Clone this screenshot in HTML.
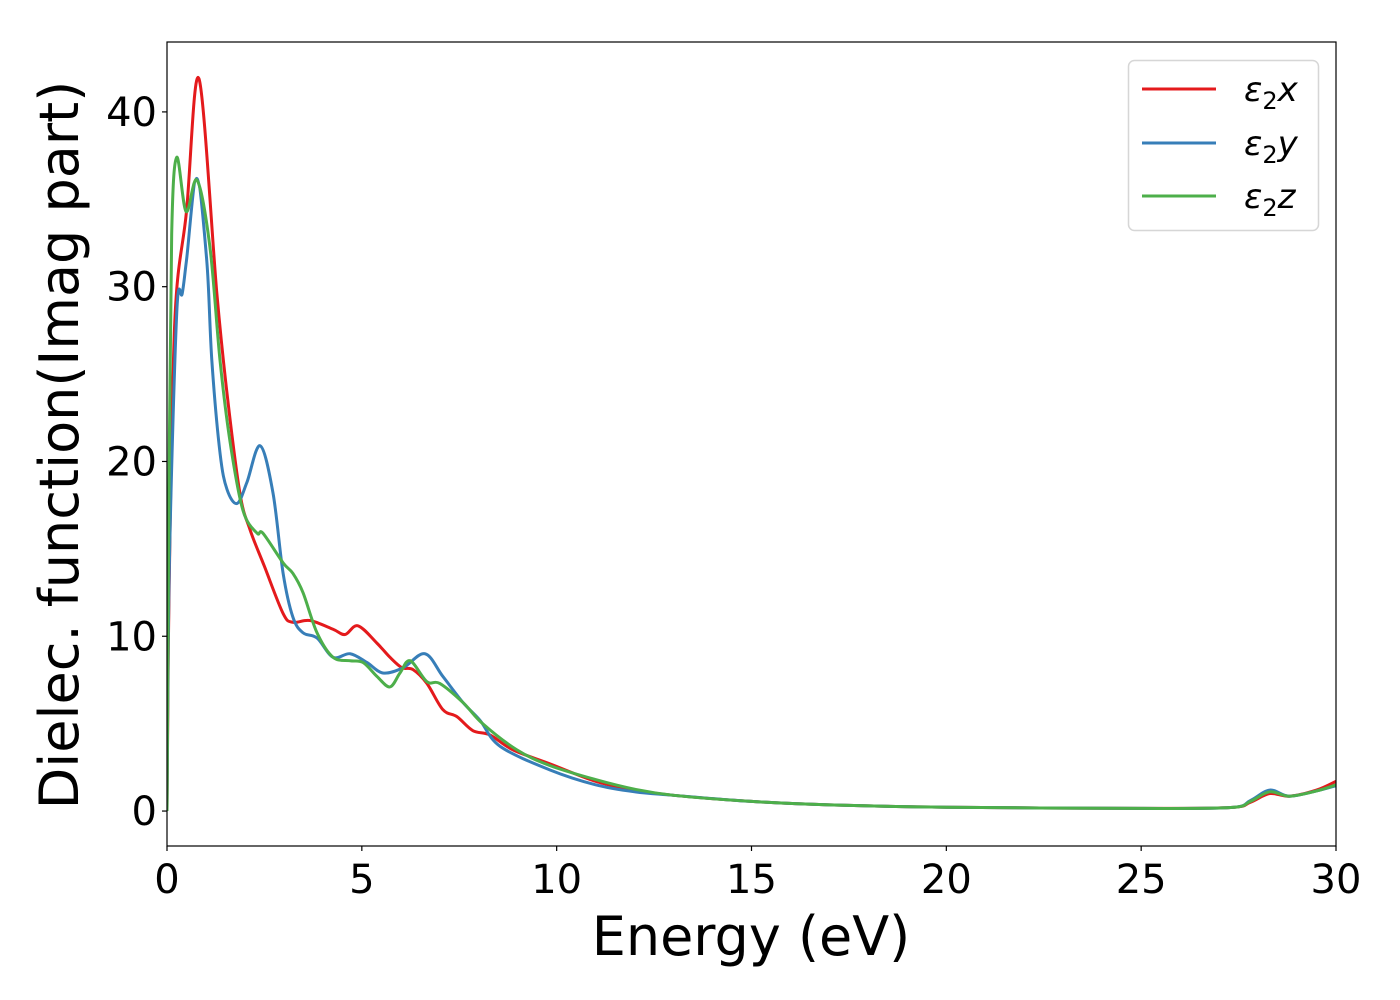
<!DOCTYPE html>
<html><head><meta charset="utf-8"><style>
html,body{margin:0;padding:0;background:#fff;}
svg{display:block;font-family:"DejaVu Sans","Liberation Sans",sans-serif;}
</style></head><body>
<svg id="chart" width="1400" height="1000" viewBox="0 0 1400 1000" xmlns="http://www.w3.org/2000/svg">
<rect width="1400" height="1000" fill="#fff"/>
<g id="plot"></g>
<g id="axes"></g>
<text x="751" y="955" font-size="54" text-anchor="middle">Energy (eV)</text>
<text transform="translate(78,445) rotate(-90)" font-size="54" text-anchor="middle">Dielec. function(Imag part)</text>
<g>
<rect x="1128.5" y="60.5" width="190" height="170" rx="6" fill="#fff" stroke="#d6d6d6" stroke-width="1.5"/>
<line x1="1142" y1="89" x2="1216" y2="89" stroke="#e41a1c" stroke-width="3"/>
<text x="1244" y="101" font-size="34" font-style="italic">ε<tspan font-style="normal" font-size="24" dy="8">2</tspan><tspan dy="-8">x</tspan></text>
<line x1="1142" y1="143" x2="1216" y2="143" stroke="#377eb8" stroke-width="3"/>
<text x="1244" y="155" font-size="34" font-style="italic">ε<tspan font-style="normal" font-size="24" dy="8">2</tspan><tspan dy="-8">y</tspan></text>
<line x1="1142" y1="196" x2="1216" y2="196" stroke="#4daf4a" stroke-width="3"/>
<text x="1244" y="208" font-size="34" font-style="italic">ε<tspan font-style="normal" font-size="24" dy="8">2</tspan><tspan dy="-8">z</tspan></text>
</g>
</svg>
<script>
const xTicks=[0,5,10,15,20,25,30];
const yTicks=[0,10,20,30,40];
const energyX=[0,0.05,0.2,0.5,0.82,1.28,1.54,1.87,2.13,2.5,2.98,3.23,3.67,4.26,4.57,4.9,5.39,5.72,6.03,6.31,6.67,7.08,7.44,7.85,8.29,8.88,9.83,11,12,13,15,17,20,25,27.3,27.8,28.3,28.8,29.5,30];
const epsX=[0,12,28,34.3,41.9,29.6,23.9,18.2,16.1,14,11.3,10.8,10.9,10.4,10.1,10.6,9.6,8.8,8.2,8.1,7.3,5.8,5.4,4.6,4.35,3.5,2.7,1.7,1.2,0.9,0.55,0.35,0.22,0.15,0.2,0.5,1.0,0.85,1.2,1.7];
const energyY=[0,0.06,0.25,0.39,0.5,0.76,1.02,1.15,1.36,1.54,1.8,2.05,2.39,2.72,2.98,3.23,3.49,3.85,4.26,4.7,5.13,5.54,6.06,6.62,7.08,7.6,8.03,8.55,9.83,11,12,13,15,17,20,25,27.3,27.8,28.3,28.8,29.5,30];
const epsY=[0,14,28.5,29.6,31.5,36.2,31.5,25.8,20.5,18.4,17.6,18.8,20.9,18.2,13.6,11.1,10.2,9.9,8.8,9.0,8.5,7.9,8.2,9.0,7.7,6.2,5.2,3.7,2.35,1.5,1.1,0.9,0.55,0.35,0.22,0.15,0.2,0.6,1.2,0.85,1.15,1.45];
const energyZ=[0,0.05,0.12,0.25,0.49,0.77,1.1,1.36,1.62,1.95,2.31,2.46,2.98,3.23,3.49,3.85,4.26,4.7,5.03,5.39,5.72,5.98,6.24,6.67,7.0,7.6,8.1,8.98,9.83,11,12,13,15,17,20,25,27.3,27.8,28.3,28.8,29.5,30];
const epsZ=[0,18,33,37.4,34.3,36.1,32.3,25.8,21.1,17.2,15.9,15.9,14.2,13.6,12.5,10.2,8.8,8.6,8.5,7.7,7.1,7.9,8.6,7.4,7.3,6.2,5.0,3.5,2.6,1.8,1.25,0.9,0.55,0.35,0.22,0.15,0.2,0.55,1.1,0.85,1.15,1.5];

const X0=167,X1=1336,Y0=846,Y1=42,xMin=0,xMax=30,yMin=-2.0,yMax=44.0;
function xs(v){return X0+(v-xMin)/(xMax-xMin)*(X1-X0);}
function ys(v){return Y0-(v-yMin)/(yMax-yMin)*(Y0-Y1);}
const NS='http://www.w3.org/2000/svg';
const plot=document.getElementById('plot');
const axes=document.getElementById('axes');
function curve(xa,ya){
  const p=xa.map((e,i)=>[xs(e),ys(ya[i])]);
  let d='M'+p[0][0].toFixed(2)+','+p[0][1].toFixed(2);
  for(let i=0;i<p.length-1;i++){
    const a=p[Math.max(0,i-1)],b=p[i],c=p[i+1],e=p[Math.min(p.length-1,i+2)];
    let c1x=b[0]+(c[0]-a[0])/6,c1y=b[1]+(c[1]-a[1])/6;
    let c2x=c[0]-(e[0]-b[0])/6,c2y=c[1]-(e[1]-b[1])/6;
    c1x=Math.min(Math.max(c1x,b[0]),c[0]);c2x=Math.min(Math.max(c2x,b[0]),c[0]);
    d+=' C'+c1x.toFixed(2)+','+c1y.toFixed(2)+' '+c2x.toFixed(2)+','+c2y.toFixed(2)+' '+c[0].toFixed(2)+','+c[1].toFixed(2);
  }
  return d;
}
const cp=document.createElementNS(NS,'clipPath');cp.setAttribute('id','clip');
const cr=document.createElementNS(NS,'rect');cr.setAttribute('x',X0);cr.setAttribute('y',Y1);cr.setAttribute('width',X1-X0);cr.setAttribute('height',Y0-Y1);
cp.appendChild(cr);plot.appendChild(cp);
const series=[[energyX,epsX,'#e41a1c','series-eps2-x'],[energyY,epsY,'#377eb8','series-eps2-y'],[energyZ,epsZ,'#4daf4a','series-eps2-z']];
for(const s of series){
  const path=document.createElementNS(NS,'path');
  path.setAttribute('d',curve(s[0],s[1]));
  path.setAttribute('fill','none');path.setAttribute('stroke',s[2]);path.setAttribute('stroke-width','3');
  path.setAttribute('clip-path','url(#clip)');
  
  
  plot.appendChild(path);
}
const frame=document.createElementNS(NS,'rect');
frame.setAttribute('x',X0);frame.setAttribute('y',Y1);frame.setAttribute('width',X1-X0);frame.setAttribute('height',Y0-Y1);
frame.setAttribute('fill','none');frame.setAttribute('stroke','#000');frame.setAttribute('stroke-width','1.2');


axes.appendChild(frame);
for(const t of xTicks){
  const x=xs(t);
  const l=document.createElementNS(NS,'line');
  l.setAttribute('x1',x);l.setAttribute('x2',x);l.setAttribute('y1',Y0);l.setAttribute('y2',Y0+5);l.setAttribute('stroke','#000');l.setAttribute('stroke-width','1.2');
  
  
  axes.appendChild(l);
  const tx=document.createElementNS(NS,'text');
  tx.setAttribute('x',x);tx.setAttribute('y',Y0+47);tx.setAttribute('font-size','40');tx.setAttribute('text-anchor','middle');
  tx.textContent=t;
  
  
  axes.appendChild(tx);
}
for(const t of yTicks){
  const y=ys(t);
  const l=document.createElementNS(NS,'line');
  l.setAttribute('x1',X0-5);l.setAttribute('x2',X0);l.setAttribute('y1',y);l.setAttribute('y2',y);l.setAttribute('stroke','#000');l.setAttribute('stroke-width','1.2');
  
  
  axes.appendChild(l);
  const tx=document.createElementNS(NS,'text');
  tx.setAttribute('x',X0-10);tx.setAttribute('y',y+14);tx.setAttribute('font-size','40');tx.setAttribute('text-anchor','end');
  tx.textContent=t;
  
  
  axes.appendChild(tx);
}
</script>
</body></html>
